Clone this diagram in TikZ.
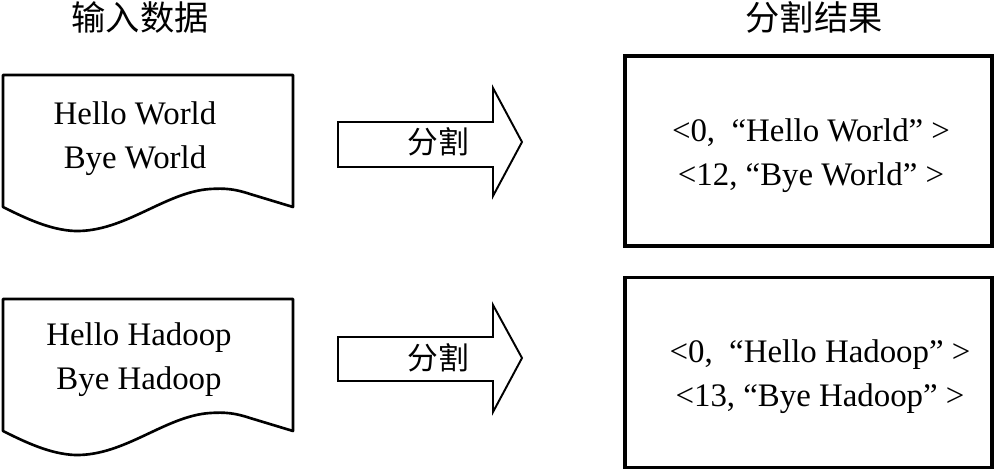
\documentclass[tikz,border=0pt]{standalone}
\usepackage{fontspec}
\setmainfont{Liberation Serif}
\newfontfamily\cjk{Noto Sans CJK SC}
\usetikzlibrary{positioning}

\begin{document}
\begin{tikzpicture}[
    x=0.02cm, y=-0.02cm,
    doc/.style={line width=1.5pt, line join=round},
    txt/.style={align=center, inner sep=0pt, font=\fontsize{18.7}{25}\selectfont},
    res/.style={draw, line width=1.8pt, minimum width=7.34cm, minimum height=3.8cm, inner sep=0pt},
    split/.style={line width=1.1pt, line join=miter},
    head/.style={font=\cjk\fontsize{19.5}{22}\selectfont, inner sep=0pt},
    lbl/.style={font=\cjk\fontsize{17.5}{20}\selectfont, inner sep=0pt}
  ]
  \useasboundingbox (0,0) rectangle (996,470);

  % titles
  \node[head] (inTitle) at (140,17) {输入数据};
  \node[head] (outTitle) at (814,17) {分割结果};

  % input documents
  \draw[doc] (3,75) -- (293,75) -- (293,207) -- (250,194)
    .. controls (235,189) and (225,188) .. (210,189)
    .. controls (165,192) and (125,232) .. (75,231)
    .. controls (50,230) and (25,218) .. (3,207) -- cycle;
  \node[txt] (in1) at (135,139) {Hello World\\Bye World};

  \begin{scope}[shift={(0,224)}]
    \draw[doc] (3,75) -- (293,75) -- (293,207) -- (250,194)
      .. controls (235,189) and (225,188) .. (210,189)
      .. controls (165,192) and (125,232) .. (75,231)
      .. controls (50,230) and (25,218) .. (3,207) -- cycle;
  \end{scope}
  \node[txt] (in2) at (139,360) {Hello Hadoop\\Bye Hadoop};

  % split arrows
  \draw[split] (338,122) -- (493,122) -- (493,88) -- (522,142) -- (493,196) -- (493,167) -- (338,167) -- cycle;
  \node[lbl] (cut1) at (438,142) {分割};

  \draw[split] (338,337) -- (493,337) -- (493,305) -- (522,358) -- (493,412) -- (493,381) -- (338,381) -- cycle;
  \node[lbl] (cut2) at (438,358) {分割};

  % results
  \node[res] (out1) at (808.5,151) {};
  \node[txt] (out1txt) at (811,155.5) {<0,\ \ “Hello World” >\\<12, “Bye World” >};

  \node[res] (out2) at (808.5,372.5) {};
  \node[txt] (out2txt) at (820,377) {<0,\ \ “Hello Hadoop” >\\<13, “Bye Hadoop” >};

\end{tikzpicture}
\end{document}
